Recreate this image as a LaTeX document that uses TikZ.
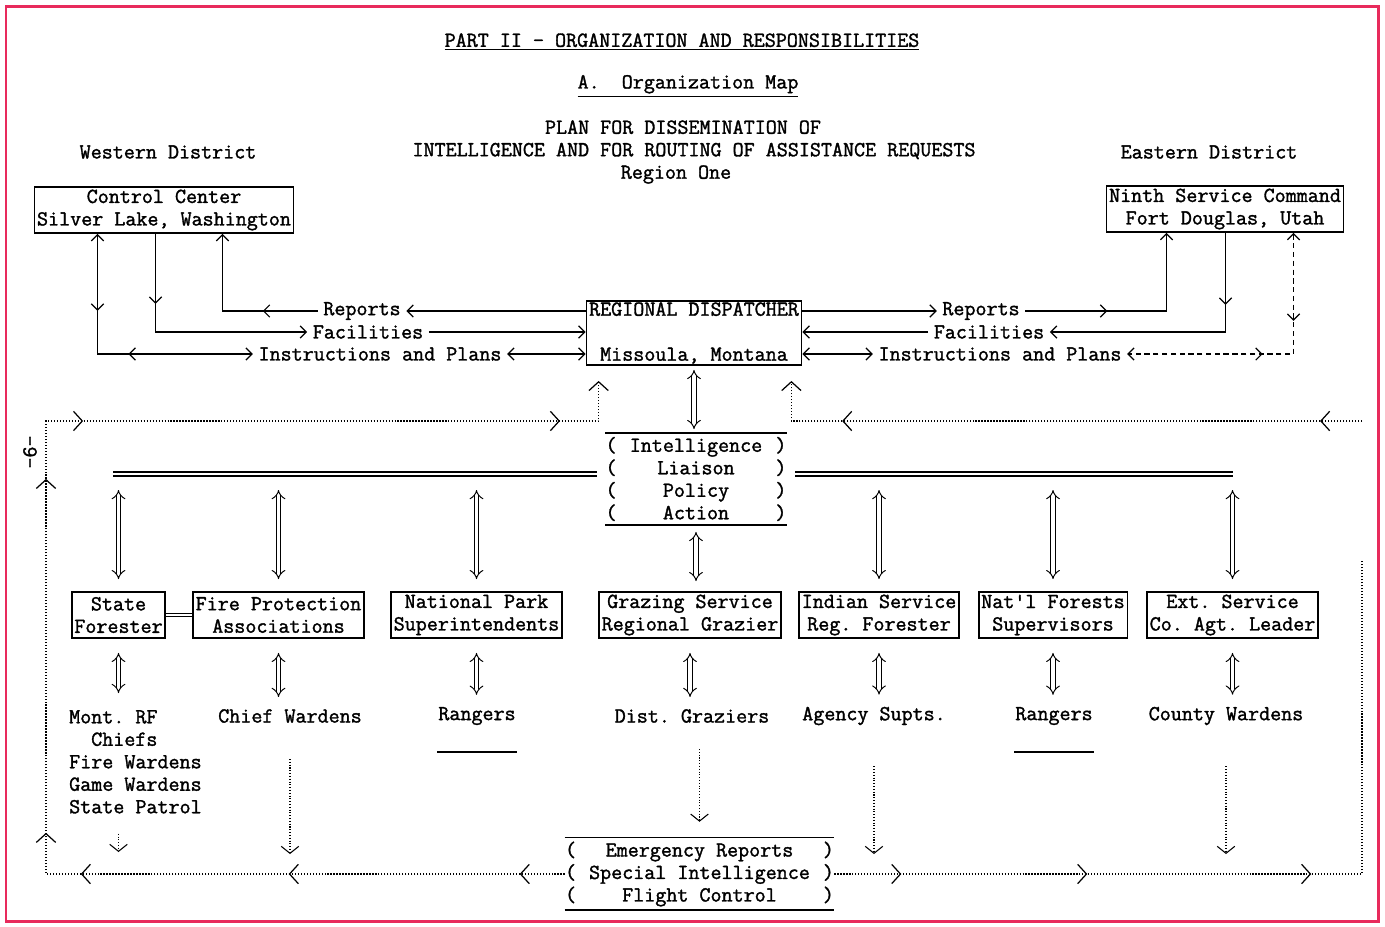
\documentclass[tikz,border=0pt]{standalone}
\usepackage{fontspec}
\usepackage{tikz}
\usetikzlibrary{arrows.meta,decorations.markings}

\newfontfamily\typerfont{lmmono12-regular.otf}[FakeBold=1.5]
\definecolor{FrameRed}{RGB}{232,42,92}

% one line of a bracket box, parentheses at both ends
\newcommand{\ParenLine}[2]{\makebox[#1]{(\hfill#2\hfill)}}

\tikzset{
	unitbox/.style={draw, line width=1pt, align=center, inner xsep=1.5pt, inner ysep=1.5pt},
	agencybox/.style={unitbox, minimum height=0.92cm},
	lbl/.style={inner xsep=3pt, inner ysep=1pt},
	con/.style={line width=0.7pt, >={Straight Barb[length=3.5pt,width=7pt]}},
	drop/.style={line width=0.6pt, densely dotted, ->, >={Straight Barb[length=4pt,width=10pt]}},
	loopline/.style={line width=0.7pt, densely dotted, >={Straight Barb[length=5pt,width=11pt]}},
	arrat/.style={postaction={decorate, decoration={markings, mark=at position #1 with {\arrow{>}}}}},
	arrback/.style={postaction={decorate, decoration={markings, mark=at position #1 with {\arrowreversed{>}}}}},
	dblarrow/.style={double, double distance=2.2pt, line width=0.55pt, Implies-Implies},
	bar/.style={double, double distance=1.6pt, line width=1pt},
}

\begin{document}
\begin{tikzpicture}[
		x=0.02cm,
		y=-0.02cm,
		every node/.style={font=\typerfont\fontsize{12.2}{12.8}\selectfont\frenchspacing}
		]
		
		% page and its frame
		\path[fill=white, use as bounding box] (0,0) rectangle (1385,926);
		\draw[FrameRed, line width=0.06cm] (6,7) rectangle (1378,921);
		
		% headings
		\node (title) at (682,42) {\underline{PART II - ORGANIZATION AND RESPONSIBILITIES}};
		\node (subtitle) at (688,86) {\underline{A.\ \ Organization Map}};
		\node[align=center] (plan) at (694,152) {PLAN FOR DISSEMINATION OF\hspace*{0.44cm}\\INTELLIGENCE AND FOR ROUTING OF ASSISTANCE REQUESTS\\Region One\hspace*{0.72cm}};
		\node (west) at (168,152) {Western District};
		\node (east) at (1209,152) {Eastern District};
		\node[rotate=-90] (pgno) at (30,452) {-9-};
		
		% district offices and the dispatcher
		\node[unitbox] (cc) at (164,210) {Control Center\\Silver Lake, Washington};
		\node[unitbox] (nsc) at (1225,209) {Ninth Service Command\\Fort Douglas, Utah};
		\node[unitbox, inner ysep=0.8pt] (disp) at (694,333) {REGIONAL DISPATCHER\\[12.8pt]Missoula, Montana};
		
		\path (cc.south west) ++(64,0) coordinate (ccI) ++(58,0) coordinate (ccF) ++(67,0) coordinate (ccR);
		\path (nsc.south west) ++(61,0) coordinate (nscR) ++(59,0) coordinate (nscF) ++(68,0) coordinate (nscI);
		
		\node[lbl] (repL) at (362,311) {Reports};
		\node[lbl] (facL) at (368,332) {Facilities};
		\node[lbl] (insL) at (380,354) {Instructions and Plans};
		\node[lbl] (repR) at (981,311) {Reports};
		\node[lbl] (facR) at (989,332) {Facilities};
		\node[lbl] (insR) at (1000,354) {Instructions and Plans};
		
		% western routes
		\draw[con, <->, arrat=1.54cm, arrback=3.02cm] (ccI) |- (insL.west);
		\draw[con, <->] (insL.east) -- (disp.west |- insL.east);
		\draw[con, ->, arrat=1.4cm] (ccF) |- (facL.west);
		\draw[con, ->] (facL.east) -- (disp.west |- facL.east);
		\draw[con, ->] (disp.west |- repL.east) -- (repL.east);
		\draw[con, ->, arrat=1.1cm] (repL.west) -| (ccR);
		
		% eastern routes
		\draw[con, ->] (disp.east |- repR.west) -- (repR.west);
		\draw[con, ->, arrat=1.64cm] (repR.east) -| (nscR);
		\draw[con, ->, arrat=1.44cm] (nscF) |- (facR.east);
		\draw[con, ->] (facR.west) -- (disp.east |- facR.west);
		\draw[con, densely dashed, <->, arrat=1.76cm, arrback=3.04cm] (nscI) |- (insR.east);
		\draw[con, <->] (insR.west) -- (disp.east |- insR.west);
		
		% liaison box and the two bars
		\node[inner xsep=0pt, inner ysep=2pt, align=center] (intel) at (696,479)
		{\ParenLine{3.62cm}{Intelligence}\\\ParenLine{3.62cm}{Liaison}\\\ParenLine{3.62cm}{Policy}\\\ParenLine{3.62cm}{Action}};
		\draw[line width=0.8pt] (intel.north west) -- (intel.north east);
		\draw[line width=1.1pt] (intel.south west) -- (intel.south east);
		\draw[dblarrow, shorten <=0.08cm, shorten >=0.08cm] (disp.south) -- (disp.south |- intel.north);
		
		\coordinate (barLw) at (113,474);
		\coordinate (barLe) at (597,474);
		\coordinate (barRw) at (795,474);
		\coordinate (barRe) at (1233,474);
		\draw[bar] (barLw) -- (barLe);
		\draw[bar] (barRw) -- (barRe);
		
		% agencies
		\node[agencybox] (sf) at (118.5,615) {State\\Forester};
		\node[agencybox] (fpa) at (278.5,615) {Fire Protection\\Associations};
		\node[agencybox] (nps) at (476.5,615) {National Park\\Superintendents};
		\node[agencybox] (gsr) at (690,615) {Grazing Service\\Regional Grazier};
		\node[agencybox] (isf) at (879,615) {Indian Service\\Reg. Forester};
		\node[agencybox] (nfs) at (1053,615) {Nat'l Forests\\Supervisors};
		\node[agencybox] (ext) at (1232.5,615) {Ext. Service\\Co. Agt. Leader};
		\draw[line width=0.6pt, double, double distance=1.5pt] (sf.east) -- (fpa.west);
		
		\foreach \b in {sf,fpa,nps}
		\draw[dblarrow, shorten <=0.32cm, shorten >=0.24cm] (\b.north |- barLw) -- (\b.north);
		\foreach \b in {isf,nfs,ext}
		\draw[dblarrow, shorten <=0.32cm, shorten >=0.24cm] (\b.north |- barRw) -- (\b.north);
		\draw[dblarrow, shorten <=0.14cm, shorten >=0.2cm] (intel.south) -- (intel.south |- gsr.north);
		
		% field level
		\node[anchor=north west, align=left] (mont) at (63,704)
		{Mont. RF\\\hspace*{0.44cm}Chiefs\\Fire Wardens\\Game Wardens\\State Patrol};
		\node (chief) at (290,716) {Chief Wardens};
		\node (rang1) at (477,716) {Rangers};
		\node (dist) at (692,716) {Dist. Graziers};
		\node (agency) at (874,716) {Agency Supts.};
		\node (rang2) at (1054,716) {Rangers};
		\node (county) at (1226,716) {County Wardens};
		\draw[line width=1pt] ([xshift=0.1cm, yshift=-0.42cm]rang1.south west) -- ([xshift=-0.1cm, yshift=-0.42cm]rang1.south east);
		\draw[line width=1pt] ([xshift=0.1cm, yshift=-0.42cm]rang2.south west) -- ([xshift=-0.1cm, yshift=-0.42cm]rang2.south east);
		
		\draw[dblarrow, shorten <=0.28cm, shorten >=0.22cm] (sf.south) -- (sf.south |- mont.north);
		\foreach \b/\l in {fpa/chief,nps/rang1,gsr/dist,isf/agency,nfs/rang2,ext/county}
		\draw[dblarrow, shorten <=0.28cm, shorten >=0.12cm] (\b.south) -- (\b.south |- \l.north);
		
		% emergency box
		\node[inner xsep=0pt, inner ysep=2pt, align=center] (emerg) at (699.5,874)
		{\ParenLine{5.38cm}{Emergency Reports}\\\ParenLine{5.38cm}{Special Intelligence}\\\ParenLine{5.38cm}{Flight Control}};
		\draw[line width=0.8pt] (emerg.north west) -- (emerg.north east);
		\draw[line width=1.1pt] (emerg.south west) -- (emerg.south east);
		
		% return loop
		\coordinate (loopSW) at (46,874);
		\coordinate (loopNW) at (46,421);
		\coordinate (loopSE) at (1362,560);
		\coordinate (loopNE) at (1362,421);
		\path (disp.south west) ++(13,0) coordinate (dispPL);
		\path (disp.south east) ++(-11,0) coordinate (dispPR);
		
		\draw[drop, shorten <=0.28cm, shorten >=0.44cm] (mont.south -| sf.south) -- (sf.south |- loopSW);
		\draw[drop, shorten <=0.6cm, shorten >=0.4cm] (chief.south) -- (chief.south |- loopSW);
		\draw[drop, shorten <=0.4cm, shorten >=0.32cm] (dist.south -| emerg.north) -- (emerg.north);
		\draw[drop, shorten <=0.7cm, shorten >=0.4cm] (agency.south) -- (agency.south |- loopSW);
		\draw[drop, shorten <=0.7cm, shorten >=0.4cm] (county.south) -- (county.south |- loopSW);
		
		\draw[loopline, ->, shorten >=0.3cm, arrat=0.9cm, arrat=5.52cm, arrat=9.68cm, arrat=11.2cm,
		arrat=18.28cm, arrat=20.18cm, arrat=29.72cm] (emerg.west) -| (loopNW) -| (dispPL);
		\draw[loopline, arrat=1.34cm, arrat=5.06cm, arrat=9.54cm] (emerg.east) -| (loopSE);
		\draw[loopline, ->, shorten >=0.3cm, arrat=0.84cm, arrat=10.4cm] (loopNE) -| (dispPR);
		
	\end{tikzpicture}
\end{document}
